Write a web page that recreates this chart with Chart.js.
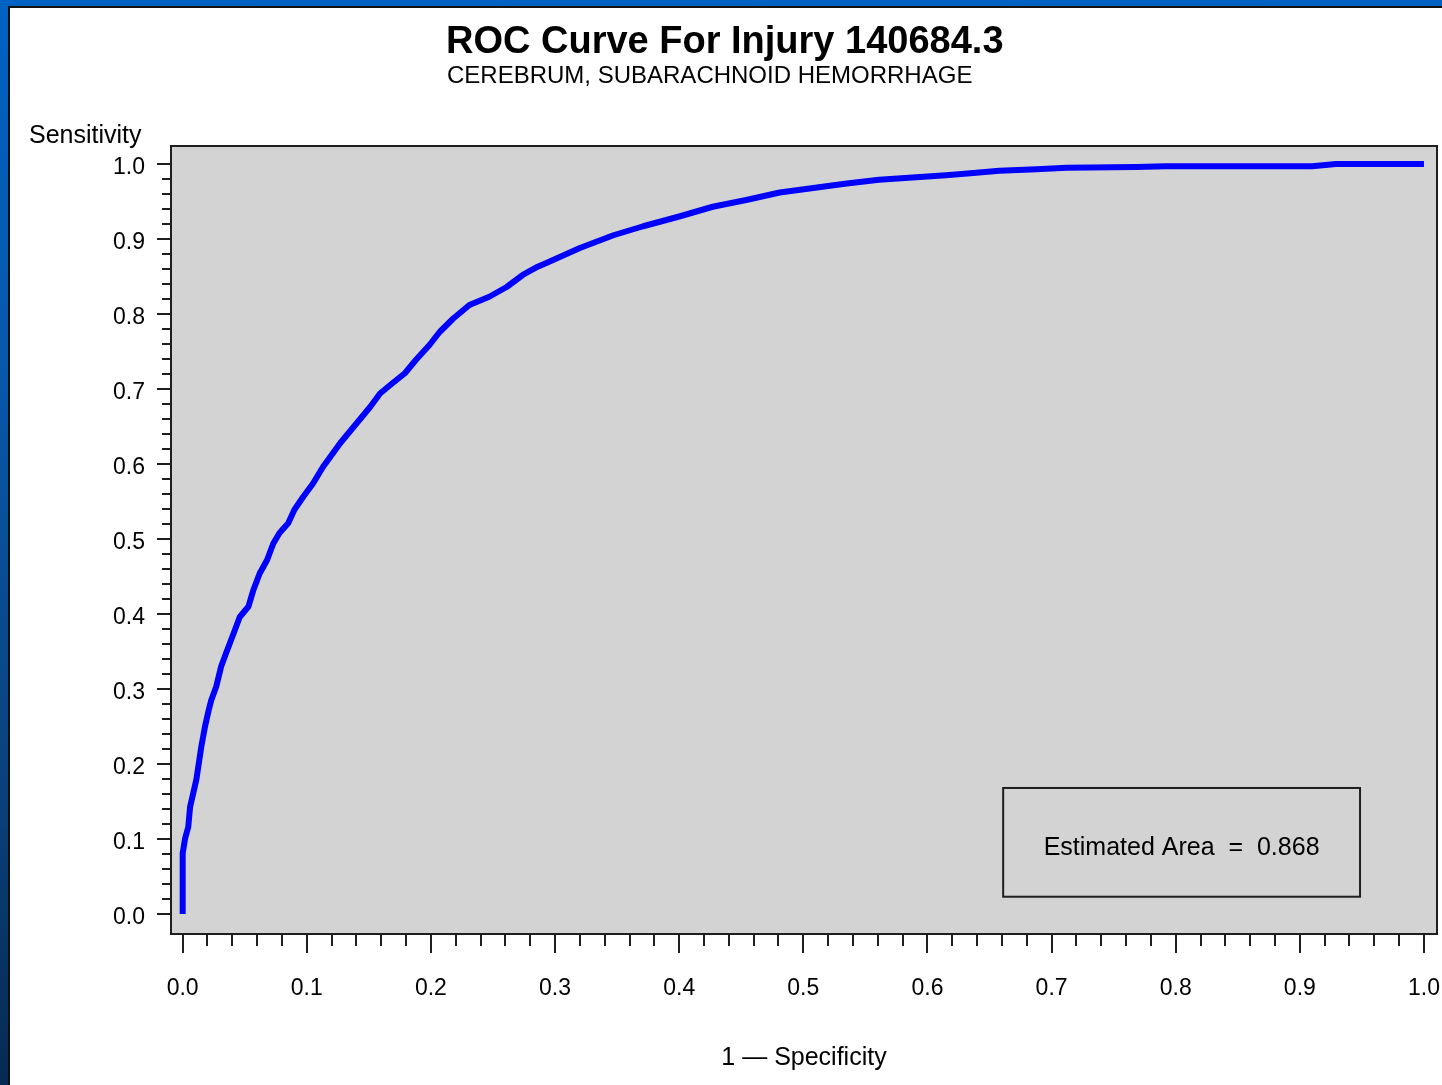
<!DOCTYPE html>
<html>
<head>
<meta charset="utf-8">
<title>ROC Curve For Injury 140684.3</title>
<script src="https://cdn.jsdelivr.net/npm/chart.js@4"></script>
<style>
  html, body { margin: 0; padding: 0; width: 1442px; height: 1085px; overflow: hidden; }
  body {
    position: relative;
    background: linear-gradient(to bottom, #0062c2 0%, #0857ab 35%, #0a437f 70%, #062a52 100%);
  }
  #panel {
    position: absolute; left: 8px; top: 6px; right: 0; bottom: 0;
    background: #ffffff; border-left: 2px solid #111; border-top: 2px solid #111;
    box-sizing: border-box;
  }
  #wrap { position: absolute; left: 0; top: 0; width: 1442px; height: 1085px; }
</style>
</head>
<body>
<div id="panel"></div>
<div id="wrap"><canvas id="roc" width="1442" height="1085"></canvas></div>
<script>
// ROC curve points: false positive rate (1 - specificity) and sensitivity
const falsePositiveRate = [
  0, 0, 0.002, 0.0045, 0.006, 0.0085, 0.011, 0.013, 0.015, 0.018,
  0.021, 0.023, 0.027, 0.031, 0.035, 0.041, 0.046, 0.053, 0.057, 0.062,
  0.068, 0.073, 0.078, 0.085, 0.090, 0.097, 0.105, 0.113, 0.127, 0.140,
  0.151, 0.159, 0.167, 0.179, 0.188, 0.199, 0.207, 0.218, 0.231, 0.247,
  0.261, 0.274, 0.286, 0.293, 0.320, 0.347, 0.371, 0.400, 0.427, 0.454,
  0.481, 0.508, 0.535, 0.561, 0.588, 0.615, 0.637, 0.658, 0.688, 0.712,
  0.768, 0.792, 0.910, 0.929, 1.0
];
const sensitivity = [
  0, 0.081, 0.101, 0.116, 0.143, 0.161, 0.179, 0.201, 0.223, 0.250,
  0.272, 0.285, 0.303, 0.330, 0.348, 0.374, 0.396, 0.410, 0.432, 0.454,
  0.472, 0.494, 0.508, 0.521, 0.539, 0.556, 0.574, 0.596, 0.628, 0.654,
  0.676, 0.694, 0.705, 0.721, 0.739, 0.759, 0.776, 0.794, 0.812, 0.823,
  0.836, 0.852, 0.863, 0.868, 0.888, 0.905, 0.917, 0.930, 0.943, 0.952,
  0.962, 0.968, 0.974, 0.979, 0.982, 0.985, 0.988, 0.991, 0.993, 0.995,
  0.996, 0.997, 0.997, 1.0, 1.0
];

// Axis tick labels
const xTickValues = [0, 0.1, 0.2, 0.3, 0.4, 0.5, 0.6, 0.7, 0.8, 0.9, 1.0];
const yTickValues = [0, 0.1, 0.2, 0.3, 0.4, 0.5, 0.6, 0.7, 0.8, 0.9, 1.0];
const minorStep = 0.02;

// Text
const titleText = 'ROC Curve For Injury 140684.3';
const subtitleText = 'CEREBRUM, SUBARACHNOID HEMORRHAGE';
const yAxisTitle = 'Sensitivity';
const xAxisTitle = '1 \u2014 Specificity';
const estimatedArea = 0.868;
const areaBox = { x0: 0.661, x1: 0.9485, y0: 0.023, y1: 0.168 };

const FONT = "'Liberation Sans', Arial, Helvetica, sans-serif";
Chart.defaults.font.family = FONT;
Chart.defaults.color = '#000';

const points = falsePositiveRate.map((x, i) => ({ x: x, y: sensitivity[i] }));

// Gray plot background, framed axes, tick marks, headings and the area box
const rocDecor = {
  id: 'rocDecor',
  beforeDatasetsDraw(chart) {
    const { ctx, chartArea: a } = chart;
    ctx.save();
    ctx.fillStyle = '#d3d3d3';
    ctx.fillRect(a.left, a.top, a.right - a.left, a.bottom - a.top);
    ctx.restore();
  },
  afterDraw(chart) {
    const { ctx, chartArea: a } = chart;
    const xs = chart.scales.x, ys = chart.scales.y;
    ctx.save();
    ctx.strokeStyle = '#1e1e1e';
    ctx.lineWidth = 2;
    ctx.strokeRect(a.left, a.top, a.right - a.left, a.bottom - a.top);

    // tick marks along the bottom
    ctx.beginPath();
    for (let i = 0; i <= 50; i++) {
      const v = i * minorStep;
      const px = Math.round(xs.getPixelForValue(v));
      const len = (i % 5 === 0) ? 19 : 12;
      ctx.moveTo(px, a.bottom);
      ctx.lineTo(px, a.bottom + len);
    }
    // tick marks along the left side
    for (let i = 0; i <= 50; i++) {
      const v = i * minorStep;
      const py = Math.round(ys.getPixelForValue(v));
      const len = (i % 5 === 0) ? 14 : 9;
      ctx.moveTo(a.left, py);
      ctx.lineTo(a.left - len, py);
    }
    ctx.stroke();

    // estimated area box
    const bx0 = xs.getPixelForValue(areaBox.x0), bx1 = xs.getPixelForValue(areaBox.x1);
    const by0 = ys.getPixelForValue(areaBox.y1), by1 = ys.getPixelForValue(areaBox.y0);
    ctx.strokeRect(bx0, by0, bx1 - bx0, by1 - by0);
    ctx.fillStyle = '#000';
    ctx.font = '25px ' + FONT;
    ctx.textAlign = 'center';
    ctx.textBaseline = 'middle';
    ctx.fillText('Estimated Area  =  ' + estimatedArea.toFixed(3), (bx0 + bx1) / 2, (by0 + by1) / 2 + 6);

    // headings
    ctx.textAlign = 'left';
    ctx.textBaseline = 'alphabetic';
    ctx.font = 'bold 38px ' + FONT;
    ctx.fillText(titleText, 446, 53);
    ctx.font = '24px ' + FONT;
    ctx.fillText(subtitleText, 447, 83);
    ctx.font = '25px ' + FONT;
    ctx.fillText(yAxisTitle, 29, 143);
    ctx.restore();
  }
};

new Chart(document.getElementById('roc'), {
  type: 'line',
  data: {
    datasets: [{
      data: points,
      borderColor: '#0000ff',
      backgroundColor: '#0000ff',
      borderWidth: 6,
      pointRadius: 0,
      tension: 0,
      borderJoinStyle: 'round',
      fill: false
    }]
  },
  options: {
    responsive: false,
    animation: false,
    events: [],
    parsing: false,
    layout: { padding: { left: 10, top: 146, right: 5, bottom: 0 } },
    plugins: { legend: { display: false }, title: { display: false }, tooltip: { enabled: false } },
    scales: {
      x: {
        type: 'linear',
        position: 'bottom',
        min: -0.0094,
        max: 1.0105,
        afterBuildTicks: s => { s.ticks = xTickValues.map(v => ({ value: v })); },
        afterFit: s => { s.height = 151; s.paddingLeft = 0; s.paddingRight = 0; },
        grid: { display: false, drawTicks: true, tickLength: 19 },
        border: { display: false },
        ticks: {
          font: { size: 23 },
          color: '#000',
          padding: 22,
          maxRotation: 0,
          autoSkip: false,
          callback: v => Number(v).toFixed(1)
        },
        title: {
          display: true,
          text: xAxisTitle,
          font: { size: 25 },
          color: '#000',
          padding: { top: 0, bottom: 12 }
        }
      },
      y: {
        type: 'linear',
        position: 'left',
        min: -0.0267,
        max: 1.024,
        afterBuildTicks: s => { s.ticks = yTickValues.map(v => ({ value: v })); },
        afterFit: s => { s.width = 161; s.paddingTop = 0; s.paddingBottom = 0; },
        grid: { display: false, drawTicks: true, tickLength: 14 },
        border: { display: false },
        ticks: {
          font: { size: 23 },
          color: '#000',
          padding: 12,
          labelOffset: 4,
          autoSkip: false,
          callback: v => Number(v).toFixed(1)
        }
      }
    }
  },
  plugins: [rocDecor]
});
</script>
</body>
</html>
